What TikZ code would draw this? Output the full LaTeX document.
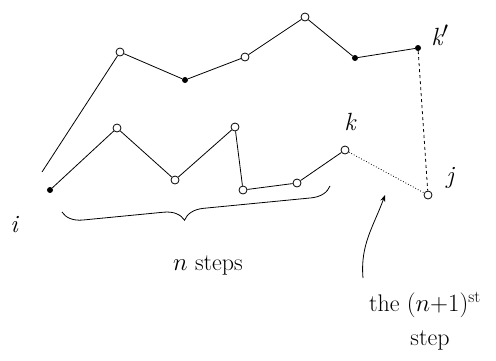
\documentclass[tikz,border=0pt]{standalone}
\usepackage{amsmath}
\usepackage{tikz}
\usetikzlibrary{arrows.meta, decorations.pathreplacing}

\tikzset{
  vtx/.style={circle, draw, thick, inner sep=0pt, minimum size=8pt},
  pnt/.style={circle, fill, inner sep=0pt, minimum size=6pt},
  walk/.style={thick},
  lbl/.style={font=\itshape\Huge},
  note/.style={font=\fontsize{24}{26}\selectfont}
}

\begin{document}
\begin{tikzpicture}[x=1pt, y=-1pt, font=\Large]
    \useasboundingbox (0,0) rectangle (496,360);
    % lower walk: n steps from i to k
    \node[pnt] (i) at (50,190) {};
    \node[vtx] (a1) at (117,128) {};
    \node[vtx] (a2) at (175,180) {};
    \node[vtx] (a3) at (235,127) {};
    \node[vtx] (a4) at (243,190) {};
    \node[vtx] (a5) at (297,183) {};
    \node[vtx] (k) at (345,150) {};
    \node[vtx] (j) at (428,195) {};
    % upper walk to k'
    \coordinate (s) at (42,172);
    \node[vtx] (b1) at (120,52) {};
    \node[pnt] (b2) at (185,80) {};
    \node[vtx] (b3) at (245,57) {};
    \node[vtx] (b4) at (305,17) {};
    \node[pnt] (b5) at (355,58) {};
    \node[pnt] (kp) at (418,48) {};
    \draw[walk] (i) -- (a1) -- (a2) -- (a3) -- (a4) -- (a5) -- (k);
    \draw[walk] (s) -- (b1) -- (b2) -- (b3) -- (b4) -- (b5) -- (kp);
    \draw[thick, dotted] (k) -- (j);
    \draw[thick, dashed] (kp) -- (j);
    % labels
    \node[lbl] at (14,225) {i};
    \node[lbl] at (350,122) {k};
    \node[lbl] at (440,35) {k$'$};
    \node[lbl] at (450,178) {j};
    \draw[thick, decorate, decoration={brace, amplitude=20pt, mirror, aspect=0.45}]
      (62,212) -- (330,186) node[coordinate, midway] (mid) {};
    \node[note] (nsteps) at (208,265) {$n$ steps};
    \coordinate (tip) at (385,195);
    \node[note] (nst) at (425,305) {the $(n{+}1)^{\text{st}}$};
    \node[note] (stp) at (430,340) {step};
    \draw[thick, -{Stealth}] (363,278) to[out=95, in=250] (tip);
  \end{tikzpicture}
\end{document}
